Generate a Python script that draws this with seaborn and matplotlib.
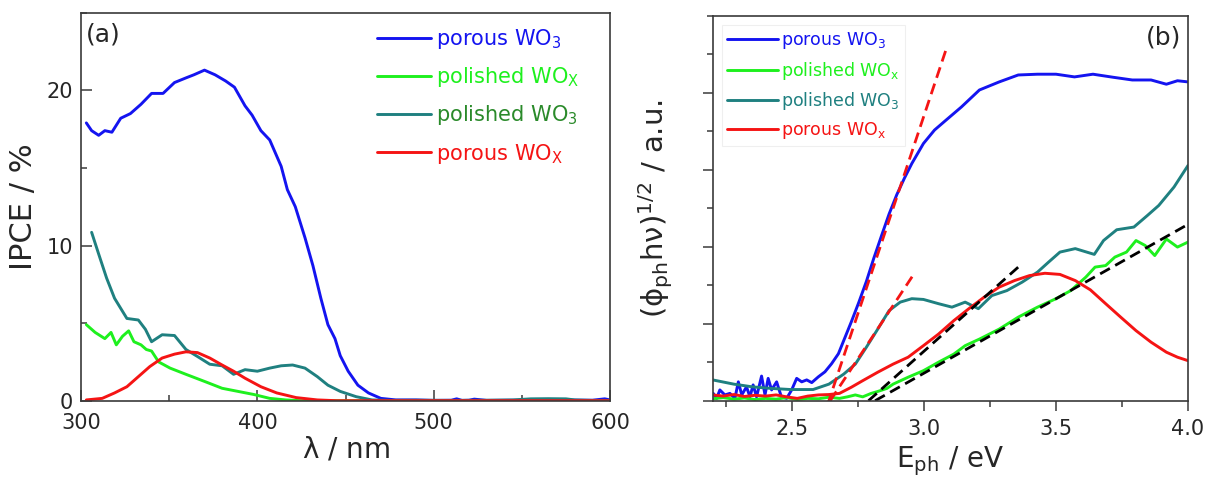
import numpy as np
import pandas as pd
import matplotlib
matplotlib.use("Agg")
import matplotlib.pyplot as plt
import seaborn as sns
from matplotlib.ticker import MultipleLocator, NullFormatter

# ---------------- data: panel (a) IPCE ----------------
a_blue_x = [303, 306, 310, 313.5, 317.5, 322.5, 328, 334, 340, 346.5, 353, 359.5, 364, 370, 376, 382, 387,
            393, 397, 402, 407, 413.5, 417, 421.5, 427, 431.5, 436, 440, 444, 447, 451.5, 457, 463, 470,
            478.5, 490, 500, 510, 513, 516, 520, 523, 530, 545, 560, 575, 590, 597, 600]
a_blue_y = [17.9, 17.4, 17.1, 17.4, 17.3, 18.2, 18.5, 19.1, 19.8, 19.8, 20.5, 20.8, 21.0, 21.3, 21.0, 20.6, 20.2,
            19.0, 18.4, 17.4, 16.8, 15.1, 13.6, 12.5, 10.5, 8.7, 6.6, 4.9, 4.0, 2.9, 1.9, 1.0, 0.5, 0.15,
            0.05, 0.05, 0.02, 0.03, 0.12, 0.02, 0.03, 0.1, 0.02, 0.03, 0.02, 0.04, 0.03, 0.12, 0.05]

a_green_x = [303, 308, 313.5, 317, 320, 323.5, 327, 330, 334, 337, 340, 344, 350.5, 359.5, 371, 380, 389,
             398, 407, 416, 425, 440, 470, 500, 550, 600]
a_green_y = [4.9, 4.4, 4.0, 4.4, 3.6, 4.15, 4.5, 3.8, 3.6, 3.3, 3.2, 2.5, 2.1, 1.7, 1.2, 0.8, 0.6,
             0.4, 0.15, 0.05, 0.0, 0.0, 0.0, 0.0, 0.0, 0.0]

a_teal_x = [306, 310, 314.5, 319, 326, 332.5, 336.5, 340, 346, 353, 359.5, 366, 373, 380, 386.5, 393, 400,
            407, 413.5, 420, 427, 434, 440, 447, 456, 465, 475, 490, 510, 530, 545, 555, 565, 575, 580, 590, 600]
a_teal_y = [10.85, 9.45, 7.9, 6.6, 5.3, 5.2, 4.6, 3.8, 4.25, 4.2, 3.3, 2.85, 2.35, 2.25, 1.7, 2.0, 1.9,
            2.1, 2.25, 2.3, 2.1, 1.55, 1.0, 0.6, 0.26, 0.05, 0.02, 0.03, 0.02, 0.03, 0.05, 0.12, 0.13, 0.12,
            0.05, 0.02, 0.02]

a_red_x = [303, 312, 319, 326, 332.5, 339, 346, 353, 359.5, 366, 373, 380, 386.5, 393, 402, 411, 422, 434,
           445, 470, 500, 550, 600]
a_red_y = [0.05, 0.15, 0.5, 0.9, 1.55, 2.2, 2.75, 3.0, 3.15, 3.1, 2.75, 2.3, 1.9, 1.45, 0.9, 0.5, 0.2, 0.05,
           0.0, 0.0, 0.0, 0.0, 0.0]

# ---------------- data: panel (b) Tauc plot ----------------
b_blue_x = [2.202, 2.215, 2.227, 2.246, 2.265, 2.284, 2.297, 2.31, 2.328, 2.341, 2.353, 2.366, 2.385, 2.398,
            2.41, 2.423, 2.442, 2.46, 2.48, 2.499, 2.518, 2.537, 2.556, 2.575, 2.6, 2.625, 2.65, 2.676,
            2.696, 2.725, 2.753, 2.782, 2.81, 2.84, 2.868, 2.897, 2.926, 2.954, 2.998, 3.04, 3.084, 3.142,
            3.21, 3.285, 3.357, 3.43, 3.50, 3.57, 3.64, 3.717, 3.789, 3.86, 3.918, 3.96, 4.0]
b_blue_y = [0.19, 0.06, 0.28, 0.15, 0.19, 0.06, 0.49, 0.15, 0.36, 0.1, 0.41, 0.1, 0.64, 0.15,
            0.58, 0.28, 0.49, 0.1, 0.06, 0.28, 0.58, 0.49, 0.54, 0.47, 0.62, 0.75, 0.96, 1.22,
            1.56, 2.05, 2.55, 3.1, 3.7, 4.3, 4.85, 5.35, 5.78, 6.16, 6.68, 7.03, 7.29, 7.63,
            8.07, 8.28, 8.46, 8.48, 8.48, 8.41, 8.48, 8.4, 8.33, 8.33, 8.22, 8.31, 8.28]

b_green_x = [2.2, 2.24, 2.28, 2.32, 2.36, 2.4, 2.44, 2.48, 2.52, 2.56, 2.6, 2.64, 2.68, 2.71, 2.74, 2.768,
             2.80, 2.825, 2.86, 2.883, 2.94, 2.998, 3.055, 3.113, 3.156, 3.21, 3.285, 3.357, 3.43, 3.50,
             3.556, 3.613, 3.648, 3.688, 3.723, 3.767, 3.803, 3.838, 3.874, 3.918, 3.96, 4.0]
b_green_y = [0.05, 0.08, 0.04, 0.07, 0.03, 0.06, 0.04, 0.08, 0.03, 0.06, 0.05, 0.09, 0.06, 0.1, 0.15, 0.1,
             0.19, 0.24, 0.32, 0.43, 0.61, 0.78, 1.0, 1.21, 1.43, 1.6, 1.86, 2.17, 2.43, 2.65,
             2.86, 3.21, 3.47, 3.51, 3.73, 3.86, 4.16, 4.03, 3.77, 4.2, 3.99, 4.12]

b_teal_x = [2.2, 2.28, 2.35, 2.42, 2.495, 2.58, 2.64, 2.696, 2.74, 2.782, 2.825, 2.868, 2.91, 2.954, 2.998,
            3.055, 3.106, 3.156, 3.206, 3.257, 3.314, 3.372, 3.43, 3.472, 3.515, 3.573, 3.645, 3.68, 3.73,
            3.795, 3.846, 3.889, 3.947, 4.0]
b_teal_y = [0.54, 0.43, 0.36, 0.32, 0.29, 0.29, 0.43, 0.69, 0.95, 1.39, 1.86, 2.34, 2.56, 2.65, 2.63,
            2.52, 2.43, 2.56, 2.39, 2.73, 2.86, 3.08, 3.34, 3.6, 3.86, 3.95, 3.8, 4.16, 4.44,
            4.51, 4.81, 5.07, 5.55, 6.11]

b_red_x = [2.2, 2.24, 2.28, 2.32, 2.36, 2.4, 2.44, 2.48, 2.52, 2.56, 2.6, 2.64, 2.68, 2.725, 2.768, 2.825,
           2.883, 2.94, 2.998, 3.055, 3.113, 3.17, 3.228, 3.285, 3.343, 3.4, 3.458, 3.515, 3.573, 3.63,
           3.688, 3.745, 3.803, 3.86, 3.918, 3.96, 4.0]
b_red_y = [0.15, 0.12, 0.16, 0.11, 0.14, 0.12, 0.15, 0.1, 0.06, 0.12, 0.15, 0.16, 0.19, 0.35, 0.52, 0.74,
           0.95, 1.13, 1.43, 1.73, 2.08, 2.39, 2.69, 2.95, 3.12, 3.25, 3.31, 3.28, 3.12, 2.88,
           2.52, 2.17, 1.82, 1.52, 1.26, 1.13, 1.04]

# linear fits (dashed), endpoints
fit_red1_x = [2.635, 3.087]
fit_red1_y = [-0.1, 9.19]
fit_red2_x = [2.645, 2.955]
fit_red2_y = [0.0, 3.22]
fit_blk1_x = [2.79, 3.357]
fit_blk1_y = [0.0, 3.47]
fit_blk2_x = [2.815, 4.0]
fit_blk2_y = [0.0, 4.58]

a_labels = [r"porous WO$_3$", r"polished WO$_X$", r"polished WO$_3$", r"porous WO$_X$"]
b_labels = [r"porous WO$_3$", r"polished WO$_x$", r"polished WO$_3$", r"porous WO$_x$"]

# ---------------- style ----------------
sns.set_style("white")
plt.rcParams["font.family"] = ["DejaVu Sans"]
plt.rcParams["mathtext.default"] = "regular"

BLUE = "#1414f0"
GREEN = "#1ef01e"
TEAL = "#1f8080"
RED = "#f51414"
SPINE = "#3a3a3a"
LW = 2.1

fig = plt.figure(figsize=(12.15, 4.87), dpi=100)
ax1 = fig.add_axes([0.0667, 0.1772, 0.4354, 0.7967])
ax2 = fig.add_axes([0.5866, 0.1772, 0.3912, 0.7906])

def draw(ax, xs, ys, color, **kw):
    df = pd.DataFrame({"x": xs, "y": ys})
    sns.lineplot(data=df, x="x", y="y", ax=ax, color=color, lw=LW, sort=False,
                 estimator=None, legend=False, **kw)

# panel (a)
series_a = [(a_blue_x, a_blue_y, BLUE), (a_green_x, a_green_y, GREEN),
            (a_teal_x, a_teal_y, TEAL), (a_red_x, a_red_y, RED)]
for xs, ys, c in series_a:
    draw(ax1, xs, ys, c)
ax1.set_xlim(300, 600)
ax1.set_ylim(0, 25)
ax1.set_xticks([300, 400, 500, 600])
ax1.set_yticks([0, 10, 20])
ax1.xaxis.set_minor_locator(MultipleLocator(50))
ax1.yaxis.set_minor_locator(MultipleLocator(5))
ax1.tick_params(which="both", direction="in", bottom=True, left=True, top=False, right=False,
                color=SPINE, labelsize=15)
ax1.tick_params(axis="x", pad=9)
ax1.tick_params(axis="y", pad=6)
ax1.tick_params(which="major", length=8, width=1.1)
ax1.tick_params(which="minor", length=4.5, width=1.1)
ax1.set_xlabel(r"$\lambda$ / nm", fontsize=20, labelpad=2)
ax1.set_ylabel("IPCE / %", fontsize=22, labelpad=6)
ax1.text(0.01, 0.975, "(a)", transform=ax1.transAxes, fontsize=18, va="top", ha="left")

handles_a = [plt.Line2D([], [], color=c, lw=LW) for _, _, c in series_a]
leg1 = ax1.legend(handles_a, a_labels, loc="upper left", bbox_to_anchor=(0.54, 0.99),
                  frameon=False, fontsize=15, handlelength=2.6, handletextpad=0.25,
                  labelspacing=0.68, borderaxespad=0.3, borderpad=0.2)
for t, c in zip(leg1.get_texts(), [BLUE, GREEN, "#2a8a2a", RED]):
    t.set_color(c)

# panel (b)
series_b = [(b_blue_x, b_blue_y, BLUE), (b_green_x, b_green_y, GREEN),
            (b_teal_x, b_teal_y, TEAL), (b_red_x, b_red_y, RED)]
for xs, ys, c in series_b:
    draw(ax2, xs, ys, c)
for fx, fy, c in [(fit_red1_x, fit_red1_y, RED), (fit_red2_x, fit_red2_y, RED),
                  (fit_blk1_x, fit_blk1_y, "black"), (fit_blk2_x, fit_blk2_y, "black")]:
    df = pd.DataFrame({"x": fx, "y": fy})
    sns.lineplot(data=df, x="x", y="y", ax=ax2, color=c, lw=2.0, estimator=None,
                 legend=False, linestyle=(0, (4, 2.2)))
ax2.set_xlim(2.2, 4.0)
ax2.set_ylim(0, 10)
ax2.set_xticks([2.5, 3.0, 3.5, 4.0])
ax2.set_xticklabels(["2.5", "3.0", "3.5", "4.0"])
ax2.xaxis.set_minor_locator(MultipleLocator(0.25))
ax2.set_yticks([0, 2, 4, 6, 8])
ax2.yaxis.set_minor_locator(MultipleLocator(1))
ax2.yaxis.set_major_formatter(NullFormatter())
ax2.tick_params(which="both", direction="out", bottom=True, left=True, top=False, right=False,
                color=SPINE, labelsize=15, pad=6)
ax2.tick_params(which="major", length=7, width=1.1)
ax2.tick_params(which="minor", length=4, width=1.1)
ax2.set_xlabel(r"E$_{ph}$ / eV", fontsize=20, labelpad=4)
ax2.set_ylabel(r"$(\phi_{ph}h\nu)^{1/2}$ / a.u.", fontsize=21, labelpad=14)
ax2.text(0.985, 0.975, "(b)", transform=ax2.transAxes, fontsize=18, va="top", ha="right")

handles_b = [plt.Line2D([], [], color=c, lw=LW) for _, _, c in series_b]
leg2 = ax2.legend(handles_b, b_labels, loc="upper left", bbox_to_anchor=(0.0, 1.0),
                  frameon=True, fontsize=12.5, handlelength=2.9, handletextpad=0.2,
                  labelspacing=0.47, borderaxespad=0.55, borderpad=0.3, fancybox=False)
leg2.get_frame().set_edgecolor("#ececec")
leg2.get_frame().set_linewidth(0.8)
for t, c in zip(leg2.get_texts(), [BLUE, GREEN, TEAL, RED]):
    t.set_color(c)

for ax in (ax1, ax2):
    for s in ax.spines.values():
        s.set_color(SPINE)
        s.set_linewidth(1.2)

fig.savefig("out.png", dpi=100)
